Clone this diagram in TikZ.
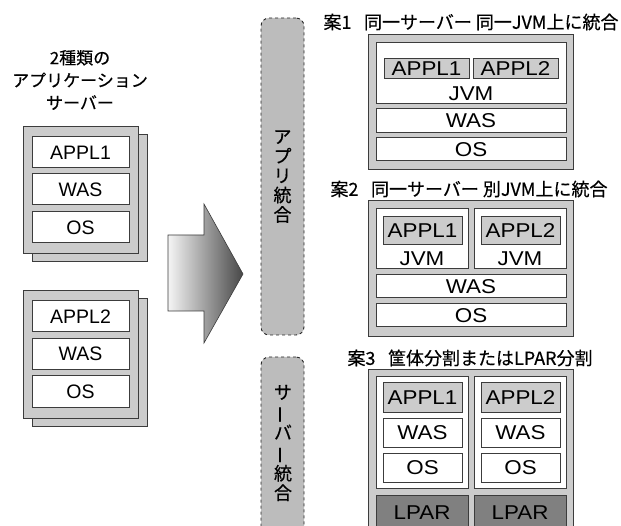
\documentclass[tikz,border=0pt]{standalone}
\usepackage{fontspec}
\setmainfont{Liberation Sans}
\newfontfamily\jpfont[FakeBold=0.5]{Noto Sans CJK JP}
\newfontfamily\widefont[FakeStretch=1.12]{Liberation Sans}
\usetikzlibrary{positioning}
\definecolor{boxline}{RGB}{60,60,60}
\definecolor{panelgray}{RGB}{204,204,204}
\definecolor{stripgray}{RGB}{188,188,188}
\definecolor{lpargray}{RGB}{128,128,128}

\begin{document}
\begin{tikzpicture}[x=1pt, y=-1pt,
            every node/.style = {inner sep=0pt, outer sep=0pt},
            panel/.style = {draw=boxline, fill=panelgray, line width=1pt},
            layer/.style = {draw=boxline, fill=white, line width=1pt},
            oldlayer/.style = {layer, minimum width=97pt, minimum height=31pt,
                font=\fontsize{19.5}{20}\selectfont},
            newlayer/.style = {layer, font=\widefont\fontsize{20}{21}\selectfont},
            applbox/.style = {newlayer, fill=panelgray},
            lparbox/.style = {newlayer, fill=lpargray, minimum width=92pt, minimum height=36pt},
            strip/.style = {draw=black!85, fill=stripgray, dashed, line width=0.9pt,
                rounded corners=8pt, minimum width=43pt},
            striplabel/.style = {align=center, font=\jpfont\fontsize{18}{19.5}\selectfont},
            plantitle/.style = {font=\jpfont\fontsize{18}{20}\selectfont}
            ]
            \useasboundingbox (0,0) rectangle (621,526);
            \clip (0,0) rectangle (621,526);

            \node[align=center, font=\jpfont\fontsize{17}{22.5}\selectfont] (title) at (80,80)
                {2種類の\\アプリケーション\\サーバー};

            \node[panel, minimum width=115pt, minimum height=127pt] (srvAback) at (89.5,198) {};
            \node[panel, minimum width=115pt, minimum height=127pt] (srvA) at (80.5,190) {};
            \node[oldlayer] (srvAappl) at (80.5,152.5) {APPL1};
            \node[oldlayer] (srvAwas) at (80.5,189.5) {WAS};
            \node[oldlayer] (srvAos) at (80.5,227.5) {OS};

            \node[panel, minimum width=115pt, minimum height=127pt] (srvBback) at (89.5,362.5) {};
            \node[panel, minimum width=115pt, minimum height=127pt] (srvB) at (80.5,354.5) {};
            \node[oldlayer] (srvBappl) at (80.5,316.5) {APPL2};
            \node[oldlayer] (srvBwas) at (80.5,354) {WAS};
            \node[oldlayer] (srvBos) at (80.5,391.5) {OS};

            \shadedraw[draw=boxline, line width=0.6pt, left color=gray!8, right color=black!72]
                (168,235) -- (204,235) -- (204,204) -- (243,274) -- (204,343) -- (204,311)
                -- (168,311) -- cycle;

            \node[strip, minimum height=317pt] (appstrip) at (282.5,176.5) {};
            \node[striplabel] at (appstrip.center) {ア\\プ\\リ\\統\\合};
            \node[strip, minimum height=206pt] (srvstrip) at (282.5,460) {};
            \node[striplabel] at (283,443) {サ\\\rotatebox[origin=c]{90}{ー}\\バ\\\rotatebox[origin=c]{90}{ー}\\統\\合};

            \node[plantitle] (planA) at (471,22) {案1\hspace{0.7em}同一サーバー 同一JVM上に統合};
            \node[panel, minimum width=205pt, minimum height=135pt] (planAbox) at (470.5,102.5) {};
            \node[layer, minimum width=190pt, minimum height=61pt] (planAjvm) at (471,73.5) {};
            \node[applbox, minimum width=85pt, minimum height=20pt] (planAappl1) at (426.5,69) {APPL1};
            \node[applbox, minimum width=85pt, minimum height=20pt] (planAappl2) at (515.5,69) {APPL2};
            \node[font=\widefont\fontsize{20}{21}\selectfont] at (471,94) {JVM};
            \node[newlayer, minimum width=190pt, minimum height=24pt] (planAwas) at (471,121) {WAS};
            \node[newlayer, minimum width=190pt, minimum height=23pt] (planAos) at (471,149.5) {OS};

            \node[plantitle] (planB) at (469,189) {案2\hspace{0.7em}同一サーバー 別JVM上に統合};
            \node[panel, minimum width=205pt, minimum height=136pt] (planBbox) at (470.5,269) {};
            \node[layer, minimum width=92pt, minimum height=60pt] (planBjvm1) at (422,239) {};
            \node[layer, minimum width=92pt, minimum height=60pt] (planBjvm2) at (520,239) {};
            \node[applbox, minimum width=79pt, minimum height=28pt] (planBappl1) at (422.5,231) {APPL1};
            \node[applbox, minimum width=79pt, minimum height=28pt] (planBappl2) at (520.5,231) {APPL2};
            \node[font=\widefont\fontsize{20}{21}\selectfont] at (422,259) {JVM};
            \node[font=\widefont\fontsize{20}{21}\selectfont] at (520,259) {JVM};
            \node[newlayer, minimum width=190pt, minimum height=23pt] (planBwas) at (471,286.5) {WAS};
            \node[newlayer, minimum width=190pt, minimum height=23pt] (planBos) at (471,315.5) {OS};

            \node[plantitle] (planC) at (470,358) {案3\hspace{0.7em}筐体分割またはLPAR分割};
            \node[panel, minimum width=205pt, minimum height=190pt] (planCbox) at (470.5,465) {};
            \node[layer, minimum width=92pt, minimum height=111pt] (planCcol1) at (422,432.5) {};
            \node[layer, minimum width=92pt, minimum height=111pt] (planCcol2) at (520,432.5) {};
            \node[applbox, minimum width=79pt, minimum height=29pt] (planCappl1) at (422.5,397.5) {APPL1};
            \node[newlayer, minimum width=79pt, minimum height=29pt] (planCwas1) at (422.5,432.5) {WAS};
            \node[newlayer, minimum width=79pt, minimum height=29pt] (planCos1) at (422.5,467.5) {OS};
            \node[applbox, minimum width=79pt, minimum height=29pt] (planCappl2) at (520.5,397.5) {APPL2};
            \node[newlayer, minimum width=79pt, minimum height=29pt] (planCwas2) at (520.5,432.5) {WAS};
            \node[newlayer, minimum width=79pt, minimum height=29pt] (planCos2) at (520.5,467.5) {OS};
            \node[lparbox] (planClpar1) at (422,513) {LPAR};
            \node[lparbox] (planClpar2) at (520,513) {LPAR};
        \end{tikzpicture}
\end{document}
